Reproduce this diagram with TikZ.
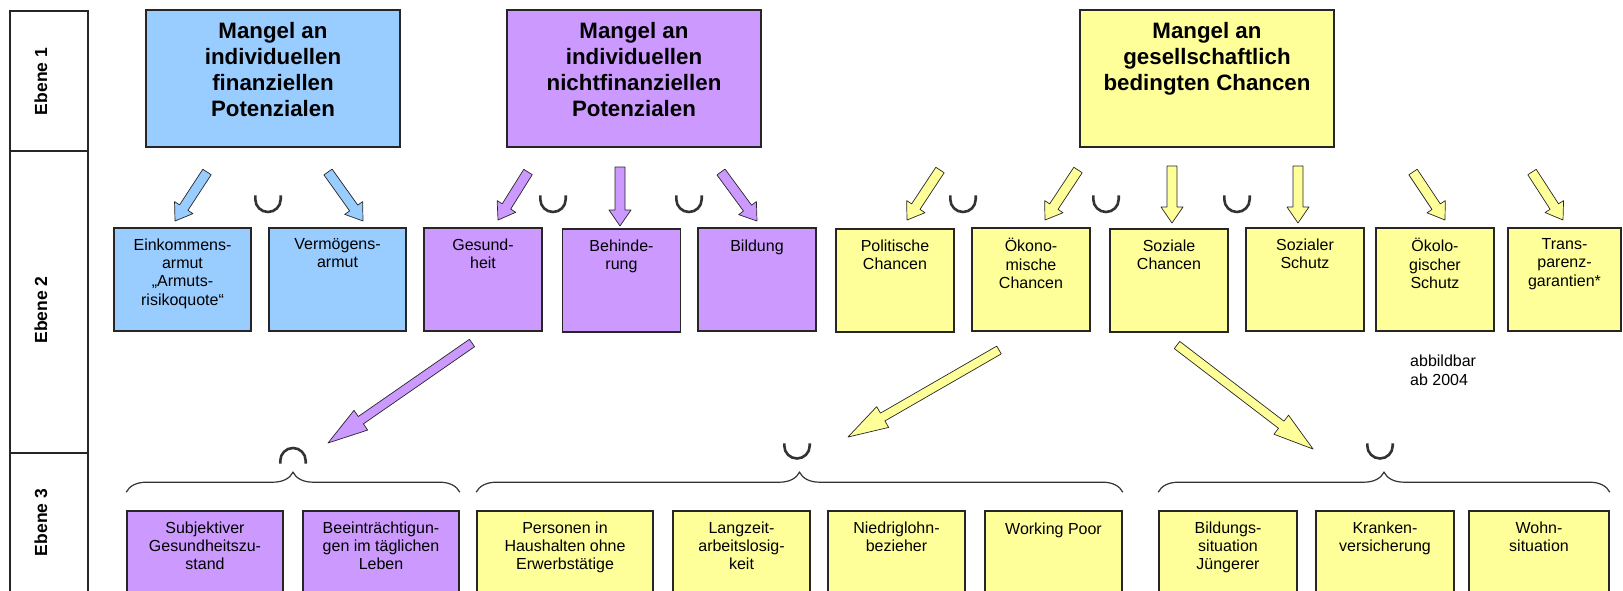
\documentclass[tikz,border=0pt]{standalone}
\usepackage{fontspec}
\setmainfont{Liberation Sans}
\usetikzlibrary{calc,decorations.pathreplacing}
\definecolor{finblau}{HTML}{99CCFF}
\definecolor{nfinlila}{HTML}{CC99FF}
\definecolor{chgelb}{HTML}{FFFF99}
\begin{document}
\begin{tikzpicture}[x=1pt, y=-1pt,
    font=\fontsize{16}{18.4}\selectfont,
    box/.style={draw=black!85, line width=1.6pt, inner sep=0pt},
    topbox/.style={box, minimum width=254pt, minimum height=137pt},
    midbox/.style={box, minimum width=118pt, minimum height=103pt},
    lowbox/.style={box, minimum width=137pt, minimum height=89pt},
    toptxt/.style={anchor=north, align=center, inner sep=0pt, yshift=-12.8pt,
        font=\fontsize{22.3}{26}\selectfont\bfseries, execute at begin node=\strut},
    txt/.style={anchor=north, align=center, inner sep=0pt, yshift=-11.1pt,
        execute at begin node=\strut},
    ebene/.style={draw=black!85, line width=1.6pt, minimum width=78pt, inner sep=0pt},
    ebtxt/.style={rotate=90, anchor=base, inner sep=0pt,
        font=\fontsize{17.5}{20}\selectfont\bfseries},
    setsym/.style={draw=black!80, line width=2.6pt},
    klammer/.style={draw=black!80, line width=1.2pt, decorate,
        decoration={brace, amplitude=20pt}},
    pfeil/.style n args={4}{draw=black!85, line width=0.7pt, line join=round, fill=#1,
        to path={($(\tikztostart)!#2!90:(\tikztotarget)$)
          -- ($(\tikztotarget)!#4!(\tikztostart)!#2!90:(\tikztotarget)$)
          -- ($(\tikztotarget)!#4!(\tikztostart)!#3!90:(\tikztotarget)$)
          -- (\tikztotarget)
          -- ($(\tikztotarget)!#4!(\tikztostart)!#3!-90:(\tikztotarget)$)
          -- ($(\tikztotarget)!#4!(\tikztostart)!#2!-90:(\tikztotarget)$)
          -- ($(\tikztostart)!#2!-90:(\tikztotarget)$) -- cycle}},
    kleinpfeil/.style={pfeil={#1}{5pt}{11pt}{16pt}},
    grosspfeil/.style={pfeil={#1}{4.5pt}{12pt}{40pt}}]
    \useasboundingbox (0,0) rectangle (1623,590);
    \clip (0,0) rectangle (1623,590);

    % Ebenen
    \node[ebene, minimum height=140pt] (e1) at (49,81) {};
    \node[ebene, minimum height=302pt] (e2) at (49,302) {};
    \node[ebene, minimum height=147pt] (e3) at (49,526.5) {};
    \node[ebtxt] (e1t) at (47,81.5) {Ebene 1};
    \node[ebtxt] (e2t) at (47,310) {Ebene 2};
    \node[ebtxt] (e3t) at (47,522.5) {Ebene 3};

    % Ebene 1
    \node[topbox, fill=finblau, label={[toptxt, name=fin-t]north:Mangel an\\individuellen\\finanziellen\\Potenzialen}] (fin) at (273,78.5) {};
    \node[topbox, fill=nfinlila, label={[toptxt, name=nfin-t]north:Mangel an\\individuellen\\nichtfinanziellen\\Potenzialen}] (nfin) at (634,78.5) {};
    \node[topbox, fill=chgelb, label={[toptxt, name=ges-t]north:Mangel an\\gesellschaftlich\\bedingten Chancen}] (ges) at (1207,78.5) {};

    % Ebene 2
    \node[midbox, minimum width=137pt, fill=finblau, label={[txt, name=ein-t]north:Einkommens-\\armut\\„Armuts-\\risikoquote“}] (ein) at (182.5,279.5) {};
    \node[midbox, minimum width=137pt, fill=finblau, label={[txt, name=verm-t]north:Vermögens-\\armut}] (verm) at (337.5,279.5) {};
    \node[midbox, fill=nfinlila, label={[txt, name=gesu-t]north:Gesund-\\heit}] (gesu) at (483,279.5) {};
    \node[midbox, fill=nfinlila, label={[txt, name=beh-t]north:Behinde-\\rung}] (beh) at (621.5,280.5) {};
    \node[midbox, fill=nfinlila, label={[txt, name=bild-t]north:Bildung}] (bild) at (757,279.5) {};
    \node[midbox, fill=chgelb, label={[txt, name=pol-t]north:Politische\\Chancen}] (pol) at (895,280.5) {};
    \node[midbox, fill=chgelb, label={[txt, name=oek-t]north:Ökono-\\mische\\Chancen}] (oek) at (1031,279.5) {};
    \node[midbox, fill=chgelb, label={[txt, name=soz-t]north:Soziale\\Chancen}] (soz) at (1169,280.5) {};
    \node[midbox, fill=chgelb, label={[txt, name=schutz-t]north:Sozialer\\Schutz}] (schutz) at (1305,279.5) {};
    \node[midbox, fill=chgelb, label={[txt, name=oekol-t]north:Ökolo-\\gischer\\Schutz}] (oekol) at (1435,279.5) {};
    \node[midbox, minimum width=113pt, fill=chgelb, label={[txt, name=trans-t]north:Trans-\\parenz-\\garantien*}] (trans) at (1564.5,279.5) {};

    \node[anchor=north west, align=left, inner sep=0pt, execute at begin node=\strut] (abb) at (1410,355) {abbildbar\\ab 2004};

    % Ebene 3
    \node[lowbox, minimum width=156pt, fill=nfinlila, label={[txt, name=subj-t]north:Subjektiver\\Gesundheitszu-\\stand}] (subj) at (205,555.5) {};
    \node[lowbox, minimum width=156pt, fill=nfinlila, label={[txt, name=beein-t]north:Beeinträchtigun-\\gen im täglichen\\Leben}] (beein) at (381,555.5) {};
    \node[lowbox, minimum width=176pt, fill=chgelb, label={[txt, name=pers-t]north:Personen in\\Haushalten ohne\\Erwerbstätige}] (pers) at (565,555.5) {};
    \node[lowbox, fill=chgelb, label={[txt, name=lang-t]north:Langzeit-\\arbeitslosig-\\keit}] (lang) at (741.5,555.5) {};
    \node[lowbox, fill=chgelb, label={[txt, name=nied-t]north:Niedriglohn-\\bezieher}] (nied) at (896.5,555.5) {};
    \node[lowbox, fill=chgelb, label={[txt, name=work-t]north:Working Poor}] (work) at (1053.5,555.5) {};
    \node[lowbox, minimum width=138pt, fill=chgelb, label={[txt, name=bildj-t]north:Bildungs-\\situation\\Jüngerer}] (bildj) at (1228,555.5) {};
    \node[lowbox, minimum width=138pt, fill=chgelb, label={[txt, name=krank-t]north:Kranken-\\versicherung}] (krank) at (1385,555.5) {};
    \node[lowbox, minimum width=140pt, fill=chgelb, label={[txt, name=wohn-t]north:Wohn-\\situation}] (wohn) at (1539,555.5) {};

    % Pfeilenden
    \coordinate (p1a) at (207,172);   \coordinate (p1b) at (175,221);
    \coordinate (p2a) at (328,172);   \coordinate (p2b) at (363,221);
    \coordinate (p3a) at (528,172);   \coordinate (p3b) at (498,220);
    \coordinate (p4a) at (620,167);   \coordinate (p4b) at (620,226);
    \coordinate (p5a) at (721,172);   \coordinate (p5b) at (757,221);
    \coordinate (p6a) at (940,170);   \coordinate (p6b) at (907,220);
    \coordinate (p7a) at (1078,170);  \coordinate (p7b) at (1045,220);
    \coordinate (p8a) at (1172,166);  \coordinate (p8b) at (1172,223);
    \coordinate (p9a) at (1298,166);  \coordinate (p9b) at (1298,223);
    \coordinate (p10a) at (1413,172); \coordinate (p10b) at (1445,220);
    \coordinate (p11a) at (1532,172); \coordinate (p11b) at (1563,220);
    \coordinate (g1a) at (472,343);   \coordinate (g1b) at (328,443);
    \coordinate (g2a) at (999,350);   \coordinate (g2b) at (848,437);
    \coordinate (g3a) at (1177,345);  \coordinate (g3b) at (1313,449);

    % Pfeile Ebene 1 -> Ebene 2
    \draw[kleinpfeil=finblau] (p1a) to (p1b);
    \draw[kleinpfeil=finblau] (p2a) to (p2b);
    \draw[kleinpfeil=nfinlila] (p3a) to (p3b);
    \draw[kleinpfeil=nfinlila] (p4a) to (p4b);
    \draw[kleinpfeil=nfinlila] (p5a) to (p5b);
    \draw[kleinpfeil=chgelb] (p6a) to (p6b);
    \draw[kleinpfeil=chgelb] (p7a) to (p7b);
    \draw[kleinpfeil=chgelb] (p8a) to (p8b);
    \draw[kleinpfeil=chgelb] (p9a) to (p9b);
    \draw[kleinpfeil=chgelb] (p10a) to (p10b);
    \draw[kleinpfeil=chgelb] (p11a) to (p11b);

    % Pfeile Ebene 2 -> Ebene 3
    \draw[grosspfeil=nfinlila] (g1a) to (g1b);
    \draw[grosspfeil=chgelb] (g2a) to (g2b);
    \draw[grosspfeil=chgelb] (g3a) to (g3b);

    % Vereinigung / Schnitt
    \draw[setsym] (255.3,195.3) -- ++(0,4) arc (180:0:12.7) -- ++(0,-4);
    \draw[setsym] (540.3,195.3) -- ++(0,4) arc (180:0:12.7) -- ++(0,-4);
    \draw[setsym] (676.3,195.3) -- ++(0,4) arc (180:0:12.7) -- ++(0,-4);
    \draw[setsym] (950.3,195.3) -- ++(0,4) arc (180:0:12.7) -- ++(0,-4);
    \draw[setsym] (1093.3,195.3) -- ++(0,4) arc (180:0:12.7) -- ++(0,-4);
    \draw[setsym] (1224.3,195.3) -- ++(0,4) arc (180:0:12.7) -- ++(0,-4);
    \draw[setsym] (280.3,463.7) -- ++(0,-3) arc (180:360:12.7) -- ++(0,3);
    \draw[setsym] (784.3,443.3) -- ++(0,2.5) arc (180:0:12.7) -- ++(0,-2.5);
    \draw[setsym] (1367.3,443.3) -- ++(0,2.5) arc (180:0:12.7) -- ++(0,-2.5);

    % Klammern
    \draw[klammer] ([yshift=18pt]subj.north west) -- ([yshift=18pt]beein.north east);
    \draw[klammer] ([yshift=18pt]pers.north west) -- ([yshift=18pt]work.north east);
    \draw[klammer] ([yshift=18pt]bildj.north west) -- ([yshift=18pt]wohn.north east);
\end{tikzpicture}
\end{document}
